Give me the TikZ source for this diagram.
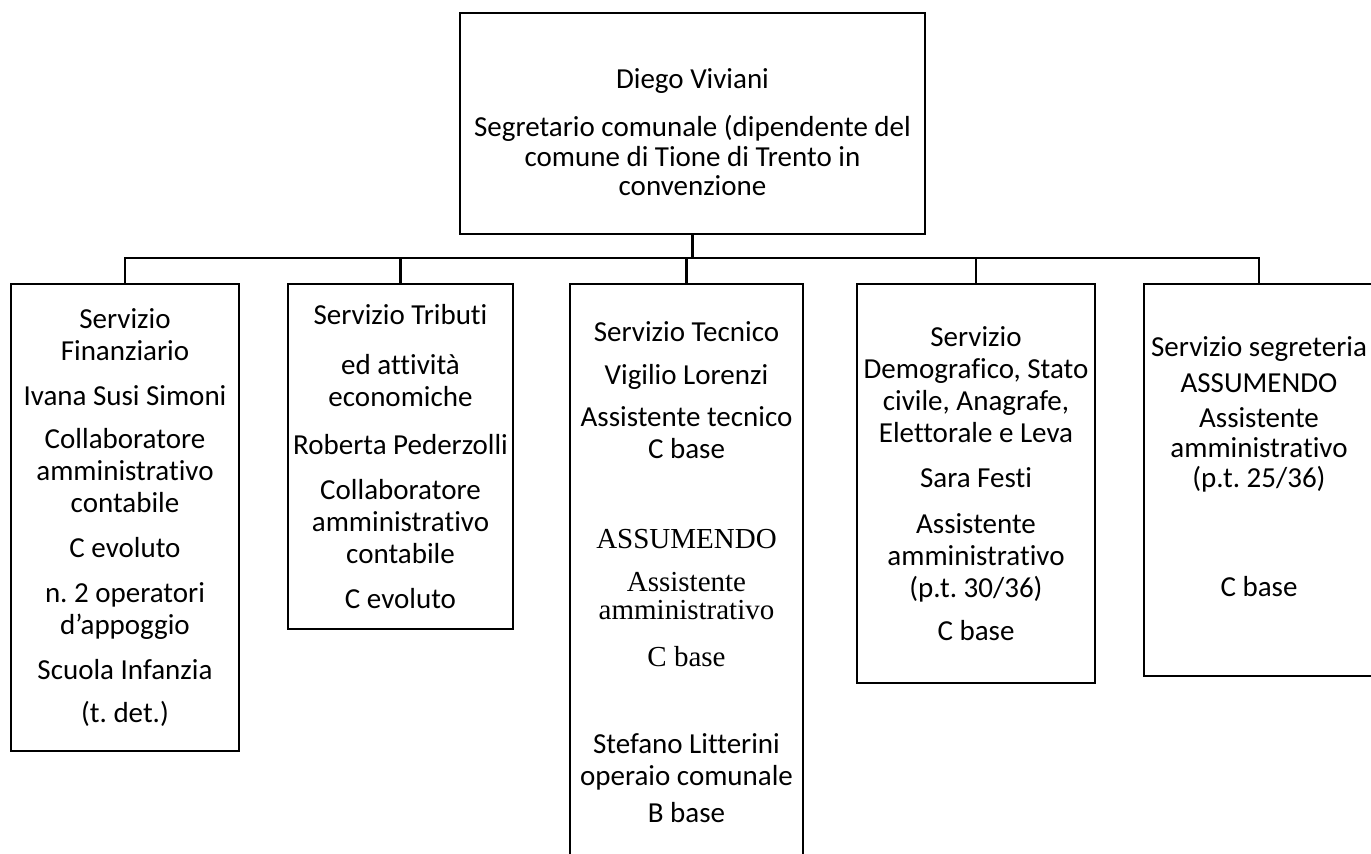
\documentclass[tikz,border=0pt]{standalone}
\usepackage{fontspec}
\setmainfont{Carlito}[Ligatures=NoCommon]
\newfontfamily\timesfont{Liberation Serif}[Ligatures=NoCommon]
\frenchspacing

\begin{document}
\begin{tikzpicture}[
    x=1pt, y=-1pt,
    box/.style={rectangle, draw, line width=2.4pt, inner sep=0pt, align=center, anchor=north, font=\fontsize{29}{32}\selectfont},
    conn/.style={line width=2.4pt}
]
\useasboundingbox (0,0) rectangle (1371,854);
\clip (0,0) rectangle (1371,854);

% Segretario comunale
\node[box, minimum width=465pt, minimum height=221pt] (segretario) at (692.5,12) {
    \rule{0pt}{37pt}Diego Viviani\\[16pt]
    Segretario comunale (dipendente del\\[-2pt]
    comune di Tione di Trento in\\[-3pt]
    convenzione
};

% Servizio Finanziario
\node[box, minimum width=228pt, minimum height=467pt] (servfin) at (125,283) {
    Servizio\\ Finanziario\\[13pt]
    Ivana Susi Simoni\\[11pt]
    Collaboratore\\ amministrativo\\ contabile\\[13pt]
    C evoluto\\[13pt]
    n. 2 operatori\\ d’appoggio\\[13pt]
    Scuola Infanzia\\[11pt]
    (t. det.)
};

% Servizio Tributi
\node[box, minimum width=225pt, minimum height=345pt] (servtrib) at (400.5,283) {
    Servizio Tributi\\[18pt]
    ed attività\\ economiche\\[16pt]
    Roberta Pederzolli\\[13pt]
    Collaboratore\\ amministrativo\\ contabile\\[13pt]
    C evoluto
};

% Servizio Tecnico
\node[box, minimum width=233pt, minimum height=575pt] (servtec) at (686.5,283) {
    Servizio Tecnico\\[11pt]
    Vigilio Lorenzi\\[10pt]
    Assistente tecnico\\ C base\\[58pt]
    {\timesfont ASSUMENDO}\\[11pt]
    {\timesfont Assistente}\\[-4pt]
    {\timesfont amministrativo}\\[15pt]
    {\timesfont C base}\\[55pt]
    Stefano Litterini\\ operaio comunale\\[5pt]
    B base
};

% Servizio Demografico
\node[box, minimum width=238pt, minimum height=399pt] (servdem) at (976,283) {
    Servizio\\ Demografico, Stato\\ civile, Anagrafe,\\ Elettorale e Leva\\[13pt]
    Sara Festi\\[14pt]
    Assistente\\ amministrativo\\ (p.t. 30/36)\\[11pt]
    C base
};

% Servizio segreteria
\node[box, minimum width=230pt, minimum height=392pt] (servseg) at (1259,283) {
    Servizio segreteria\\[4pt]
    ASSUMENDO\\[3pt]
    Assistente\\[-2pt] amministrativo\\[-2pt] (p.t. 25/36)\\[77pt]
    C base\rule[-28pt]{0pt}{28pt}
};

% Connectors
\coordinate (bus) at (693,258);
\draw[conn] (segretario.south) -- (segretario.south |- bus);
\draw[conn] (servfin.north) |- (bus) -| (servseg.north);
\foreach \n in {servtrib, servtec, servdem}
    \draw[conn] (\n.north |- bus) -- (\n.north);

\end{tikzpicture}
\end{document}
